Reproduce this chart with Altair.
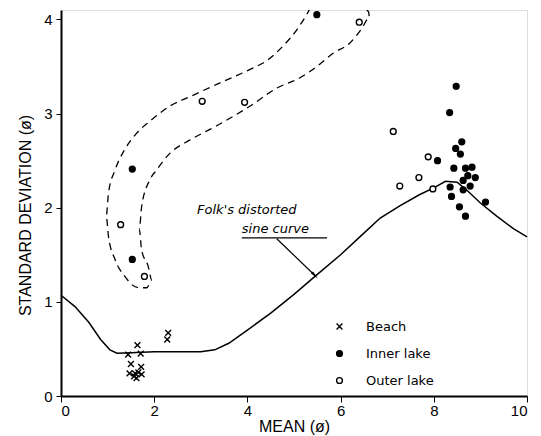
import altair as alt
import pandas as pd

# ---------------- data ----------------
beach_x = [2.30, 2.28, 1.64, 1.44, 1.71, 1.50, 1.72, 1.47, 1.59, 1.66, 1.73, 1.57, 1.62]
beach_y = [0.67, 0.60, 0.54, 0.44, 0.45, 0.34, 0.31, 0.24, 0.24, 0.25, 0.23, 0.21, 0.19]

inner_x = [1.53, 1.53, 5.49,
           8.48, 8.34, 8.60, 8.47, 8.57, 8.08, 8.43, 8.68, 8.82, 8.73, 8.89,
           8.63, 8.35, 8.63, 8.78, 8.38, 9.11, 8.55, 8.68]
inner_y = [2.41, 1.45, 4.05,
           3.29, 3.01, 2.70, 2.63, 2.57, 2.50, 2.42, 2.42, 2.43, 2.34, 2.32,
           2.29, 2.22, 2.19, 2.23, 2.12, 2.06, 2.01, 1.91]

outer_x = [1.28, 1.79, 3.03, 3.94, 6.40, 7.13, 7.88, 7.68, 7.27, 7.98]
outer_y = [1.82, 1.27, 3.13, 3.12, 3.97, 2.81, 2.54, 2.32, 2.23, 2.20]

# Folk's distorted sine curve
curve_x = [0.0, 0.3, 0.6, 0.85, 1.05, 1.2, 1.5, 2.0, 2.5, 3.0, 3.3, 3.6, 4.0, 4.5,
           5.0, 5.45, 6.0, 6.5, 6.85, 7.27, 7.7, 8.0, 8.25, 8.5, 8.7, 9.0, 9.35, 9.7, 10.0]
curve_y = [1.07, 0.95, 0.78, 0.60, 0.49, 0.455, 0.46, 0.47, 0.47, 0.47, 0.49, 0.56, 0.70, 0.88,
           1.08, 1.27, 1.50, 1.73, 1.89, 2.02, 2.14, 2.21, 2.28, 2.27, 2.19, 2.05, 1.91, 1.78, 1.69]

# dashed envelope (outer side from top down, round the bottom, inner side back up)
env_x = [5.35, 5.27, 5.06, 4.77, 4.41, 4.06, 3.34, 2.77, 2.34, 1.91, 1.62, 1.37, 1.16,
         1.02, 0.97, 1.02, 1.16, 1.37, 1.66, 1.84, 1.95, 1.87, 1.73, 1.68, 1.73,
         1.91, 2.05, 2.34, 2.77, 3.34, 4.06, 4.63, 5.13, 5.49, 5.84, 6.20, 6.45, 6.62, 6.60, 6.50]
env_y = [4.12, 4.05, 3.89, 3.72, 3.56, 3.47, 3.31, 3.18, 3.08, 2.92, 2.79, 2.62, 2.40,
         2.16, 1.91, 1.69, 1.45, 1.27, 1.15, 1.15, 1.23, 1.38, 1.55, 1.77, 2.01,
         2.30, 2.40, 2.58, 2.72, 2.87, 3.08, 3.27, 3.38, 3.50, 3.64, 3.75, 3.90, 4.02, 4.08, 4.12]

note_lines = ["Folk's distorted", "sine curve"]
note_x = [2.92, 3.88]
note_y = [1.98, 1.77]
underline_x = [3.88, 5.71]
underline_y = [1.68, 1.68]
arrow_x = [4.63, 5.45]
arrow_y = [1.67, 1.28]

categories = ["Beach", "Inner lake", "Outer lake"]
x_ticks = [0, 2, 4, 6, 8, 10]
y_ticks = [0, 1, 2, 3, 4]

# ---------------- tables ----------------
pts = pd.DataFrame({
    "x": beach_x + inner_x + outer_x,
    "y": beach_y + inner_y + outer_y,
    "type": ["Beach"] * len(beach_x) + ["Inner lake"] * len(inner_x) + ["Outer lake"] * len(outer_x),
})
curve = pd.DataFrame({"x": curve_x, "y": curve_y})
env = pd.DataFrame({"x": env_x, "y": env_y, "o": list(range(len(env_x)))})
notes = pd.DataFrame({"x": note_x, "y": note_y, "t": note_lines})
under = pd.DataFrame({"x": underline_x, "y": underline_y})
arrow = pd.DataFrame({"x": arrow_x, "y": arrow_y, "o": [0, 1]})
head = arrow.iloc[[1]]

xs = alt.Scale(domain=[0, 10], nice=False, zero=False)
ys = alt.Scale(domain=[0, 4.1], nice=False, zero=False)

FONT = "Liberation Sans"

xenc = alt.X("x:Q", scale=xs, axis=alt.Axis(
    values=x_ticks, format="d", title="MEAN (ø)", grid=False, labelFont=FONT, labelFontSize=15,
    titleFont=FONT, titleFontSize=16, titleFontWeight="normal", titlePadding=0,
    tickSize=6, tickColor="black", domainColor="black", domainWidth=2,
    labelColor="black", titleColor="black", labelPadding=1))
yenc = alt.Y("y:Q", scale=ys, axis=alt.Axis(
    values=y_ticks, format="d", title="STANDARD DEVIATION (ø)", grid=False, labelFont=FONT,
    labelFontSize=15, titleFont=FONT, titleFontSize=16, titleFontWeight="normal",
    titlePadding=10, titleY=205, tickSize=5, tickColor="black", domainColor="black",
    domainWidth=2, labelColor="black", titleColor="black", labelPadding=4))

line = alt.Chart(curve).mark_line(color="black", strokeWidth=1.5).encode(x=xenc, y=yenc)

envelope = alt.Chart(env).mark_line(color="black", strokeWidth=1.3, strokeDash=[7, 5],
                                    clip=True, interpolate="monotone").encode(
    x=alt.X("x:Q", scale=xs), y=alt.Y("y:Q", scale=ys), order="o:Q")

XPATH = "M-1,-1L1,1M1,-1L-1,1"
leg = alt.Legend(title=None, orient="none", legendX=272, legendY=310,
                 labelFont="DejaVu Sans", labelFontSize=13, labelColor="black",
                 rowPadding=13, labelOffset=20, symbolSize=34,
                 symbolStrokeColor="black", symbolStrokeWidth=1.4)
points = alt.Chart(pts).mark_point(strokeWidth=1.4, opacity=1, size=34).encode(
    x=alt.X("x:Q", scale=xs), y=alt.Y("y:Q", scale=ys),
    shape=alt.Shape("type:N", scale=alt.Scale(domain=categories, range=[XPATH, "circle", "circle"]),
                    legend=leg),
    fill=alt.Fill("type:N", scale=alt.Scale(domain=categories, range=["black", "black", "white"]),
                  legend=leg),
    stroke=alt.Stroke("type:N", scale=alt.Scale(domain=categories, range=["black", "black", "black"]),
                      legend=leg),
)

text = alt.Chart(notes).mark_text(align="left", baseline="middle", font="DejaVu Sans",
                                  fontStyle="italic", fontSize=13, color="black").encode(
    x=alt.X("x:Q", scale=xs), y=alt.Y("y:Q", scale=ys), text="t:N")

uline = alt.Chart(under).mark_line(color="black", strokeWidth=1.2).encode(
    x=alt.X("x:Q", scale=xs), y=alt.Y("y:Q", scale=ys))

aline = alt.Chart(arrow).mark_line(color="black", strokeWidth=1.2).encode(
    x=alt.X("x:Q", scale=xs), y=alt.Y("y:Q", scale=ys), order="o:Q")

ahead = alt.Chart(head).mark_point(shape="M0,-1L0.35,1L-0.35,1Z", filled=True, color="black",
                                   size=70, angle=135, opacity=1).encode(
    x=alt.X("x:Q", scale=xs), y=alt.Y("y:Q", scale=ys))

chart = alt.layer(line, envelope, uline, aline, ahead, text, points).properties(
    width=466, height=386, autosize="none",
    padding={"left": 53, "top": 2, "right": 6, "bottom": 40},
).configure_view(stroke="black", strokeWidth=2).configure(background="white")

chart.save("out.html", embed_options={"renderer": "svg", "actions": False})
